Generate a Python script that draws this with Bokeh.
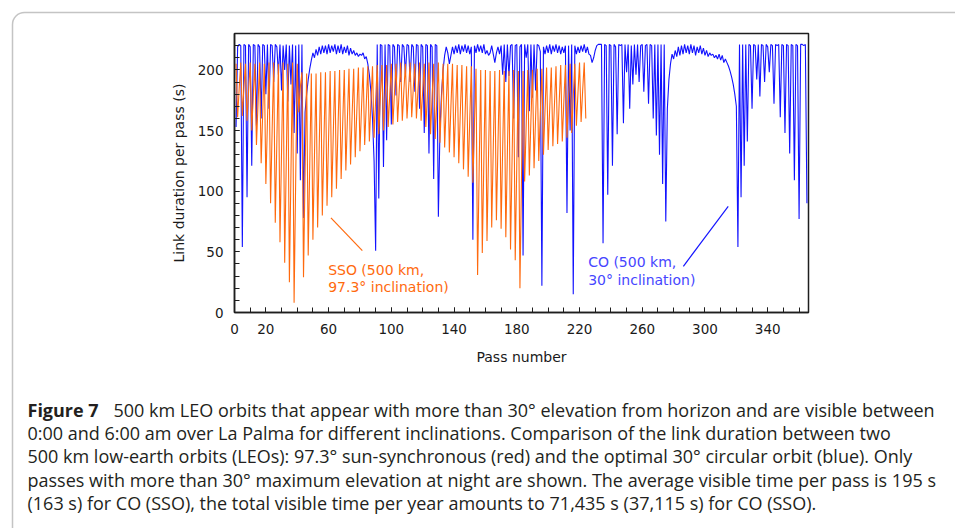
from bokeh.plotting import figure
from bokeh.models import FixedTicker, Label, BoxAnnotation, Arrow, Range1d
from bokeh.core.properties import value
from bokeh.embed import file_html
from bokeh.resources import INLINE

# ---------------- data ----------------
# CO (500 km, 30 deg inclination): link duration per pass, passes 1..365
co_g1 = [153, 219, 221, 220, 54, 221, 220, 95, 221, 219,
         121, 221, 220, 154, 221, 219, 160, 221, 220, 180,
         221, 168, 221, 220, 190, 221, 219, 196, 221, 183,
         220, 200, 221, 174, 220, 188, 221, 148, 220, 131,
         221, 109, 221, 78]
co_p1 = [165, 180, 192, 201, 208, 214, 210, 217, 212, 219,
         213, 220, 214, 220, 213, 221, 214, 220, 215, 221,
         213, 220, 214, 221, 213, 219, 214, 220, 212, 218,
         213, 216, 212, 214, 211, 213, 212, 214, 209, 211,
         205, 196, 182, 160, 125]
co_g2 = [51, 221, 94, 221, 220, 120, 221, 142, 221, 220,
         155, 221, 219, 179, 221, 220, 190, 221, 219, 196,
         221, 220, 190, 221, 219, 182, 221, 220, 168, 221,
         219, 148, 221, 220, 131, 221, 219, 110, 221, 220,
         79]
co_p2 = [150, 180, 200, 212, 219, 214, 205, 212, 219, 213,
         220, 214, 221, 213, 220, 215, 221, 214, 220, 213,
         219, 60, 220, 214, 221, 215, 220, 214, 221, 213,
         216, 212, 214, 220, 213, 206, 214, 219, 213, 220]
co_g3 = [196, 221, 190, 221, 195, 220, 221, 160, 220, 221,
         128, 219, 221, 47, 221, 210, 221, 166, 221, 177,
         221, 183, 221, 220, 215, 22, 219, 213, 220, 214,
         221, 213, 220, 215, 221, 214, 220, 213, 219, 214,
         220, 82, 220, 150, 221, 15, 220, 213, 219, 214,
         220, 215, 221, 214, 219, 213, 212, 206, 210, 216,
         220, 221, 221, 221]
co_g4 = [57, 221, 220, 97, 221, 220, 121, 221, 219, 147,
         221, 220, 221, 156, 221, 198, 221, 168, 220, 188,
         221, 196, 221, 190, 220, 221, 182, 220, 221, 172,
         221, 220, 160, 221, 146, 221, 130, 221, 106, 221,
         75]
co_p3 = [168, 192, 205, 213, 209, 216, 211, 219, 212, 220,
         213, 221, 214, 220, 213, 221, 214, 220, 212, 219,
         214, 220, 213, 218, 212, 216, 211, 214, 212, 213,
         210, 212, 209, 213, 208, 212, 206, 209, 206, 203,
         199, 194, 188, 180, 170]
co_g5 = [54, 221, 95, 221, 121, 221, 141, 221, 220, 168,
         221, 220, 192, 221, 178, 221, 220, 190, 221, 219,
         198, 221, 220, 172, 221, 220, 221, 161, 221, 220,
         148, 221, 220, 131, 221, 220, 109, 221, 220, 77,
         221, 221, 220, 221, 90]

# SSO (500 km, 97.3 deg): one 3-pass cycle = (high pass, low pass, middle pass)
sso_high = [205, 206, 205, 206, 205, 206, 205, 206, 206, 205,
            206, 205, 206, 205, 198, 197, 197, 197, 198, 198,
            199, 199, 200, 200, 201, 201, 202, 202, 203, 203,
            204, 204, 204, 205, 205, 206, 205, 206, 205, 206,
            205, 206, 205, 206, 205, 205, 205, 204, 204, 203,
            203, 201, 200, 200, 199, 199, 200, 199, 199, 200,
            199, 199, 200, 200, 201, 201, 202, 202, 203, 204,
            204, 205, 205, 206, 206]
sso_low = [161, 162, 158, 150, 138, 123, 106, 90, 74, 58,
           41, 25, 8, 165, 29, 47, 60, 70, 80, 88,
           95, 102, 110, 117, 122, 128, 133, 138, 141, 144,
           147, 150, 153, 155, 157, 158, 160, 161, 160, 158,
           153, 147, 143, 140, 136, 132, 128, 123, 118, 112,
           107, 31, 49, 59, 70, 76, 69, 62, 52, 43,
           20, 108, 113, 119, 125, 130, 134, 137, 139, 141,
           144, 148, 154, 157, 160]
sso_mid = [185, 186, 183, 180, 172, 165, 157, 150, 141, 133,
           124, 116, 108, 186, 115, 123, 130, 135, 140, 144,
           148, 152, 156, 160, 163, 166, 169, 171, 173, 175,
           177, 178, 180, 181, 182, 183, 184, 185, 184, 183,
           180, 178, 175, 174, 172, 170, 168, 165, 162, 159,
           156, 118, 126, 131, 136, 139, 136, 132, 127, 122,
           111, 155, 158, 161, 164, 167, 169, 171, 172, 174,
           176, 178, 181, 183, 185]

x_tick_labels = [0, 20, 60, 100, 140, 180, 220, 260, 300, 340]
y_tick_labels = [0, 50, 100, 150, 200]

caption_head = "Figure 7"
caption_lines = [
    "500 km LEO orbits that appear with more than 30\u00b0 elevation from horizon and are visible between",
    "0:00 and 6:00 am over La Palma for different inclinations. Comparison of the link duration between two",
    "500 km low-earth orbits (LEOs): 97.3\u00b0 sun-synchronous (red) and the optimal 30\u00b0 circular orbit (blue). Only",
    "passes with more than 30\u00b0 maximum elevation at night are shown. The average visible time per pass is 195 s",
    "(163 s) for CO (SSO), the total visible time per year amounts to 71,435 s (37,115 s) for CO (SSO).",
]

# ---------------- assemble series ----------------
co = co_g1 + co_p1 + co_g2 + co_p2 + co_g3 + co_g4 + co_p3 + co_g5
co_pass = list(range(1, len(co) + 1))
sso = []
for h, l, m in zip(sso_high, sso_low, sso_mid):
    sso += [h, l, m]
sso = sso[:-1]
sso_pass = list(range(1, len(sso) + 1))

BLUE = "#1212ff"
ORANGE = "#ff6a0e"
FONT = "DejaVu Sans"
TXT = "#1a1a1a"

W, H = 955, 528
FL, FR, FT, FB = 234, 808, 33, 312   # chart frame in page px

# ---------------- background sheet: rounded box + caption ----------------
bg = figure(width=W, height=H, x_range=Range1d(0, W), y_range=Range1d(H, 0),
            output_backend="svg", toolbar_location=None,
            x_axis_type=None, y_axis_type=None, min_border=0)
bg.grid.visible = False
bg.outline_line_color = None
bg.add_layout(BoxAnnotation(left=12, right=W + 60, top=12, bottom=H + 60,
                            fill_alpha=0, line_color="#3a3a3a", line_width=1.5,
                            border_radius=12))
CAP_FONT = "Open Sans"
CAP_SIZE = "18px"
line_y = [409, 432, 455, 479, 502]
bg.text(x=[27], y=[line_y[0]], text=[caption_head], text_font=value(CAP_FONT),
        text_font_size=CAP_SIZE, text_font_style="bold", text_baseline="middle",
        text_color="#231f20")
bg.text(x=[113] + [27] * 4, y=line_y, text=caption_lines, text_font=value(CAP_FONT),
        text_font_size=CAP_SIZE, text_baseline="middle", text_color="#231f20")

# ---------------- chart ----------------
p = figure(width=W, height=H, x_range=Range1d(0, 366), y_range=Range1d(0, 230),
           output_backend="svg", toolbar_location=None,
           min_border_left=FL, min_border_right=W - FR,
           min_border_top=FT, min_border_bottom=H - FB)
p.grid.visible = False
p.background_fill_alpha = 0
p.border_fill_alpha = 0
p.outline_line_color = "#1e1e1e"
p.outline_line_width = 1.5

p.line(co_pass, co, line_color=BLUE, line_width=1.1)
p.line(sso_pass, sso, line_color=ORANGE, line_width=1.1)

for ax in (p.xaxis[0], p.yaxis[0]):
    ax.axis_line_color = "#1e1e1e"
    ax.axis_line_width = 1.5
    ax.major_tick_in = 5
    ax.major_tick_out = 0
    ax.minor_tick_in = 5
    ax.minor_tick_out = 0
    ax.major_tick_line_color = "#1e1e1e"
    ax.minor_tick_line_color = "#1e1e1e"
    ax.major_label_text_font = FONT
    ax.major_label_text_font_size = "13.5px"
    ax.major_label_text_color = TXT
    ax.axis_label_text_font = FONT
    ax.axis_label_text_font_size = "14px"
    ax.axis_label_text_font_style = "normal"
    ax.axis_label_text_color = TXT

p.xaxis.ticker = FixedTicker(ticks=x_tick_labels, minor_ticks=list(range(0, 370, 10)))
p.yaxis.ticker = FixedTicker(ticks=y_tick_labels, minor_ticks=list(range(0, 231, 10)))
p.xaxis.axis_label = "Pass number"
p.yaxis.axis_label = "Link duration per pass (s)"
p.xaxis.major_label_standoff = 11
p.yaxis.major_label_standoff = 11
p.xaxis.axis_label_standoff = 12
p.yaxis.axis_label_standoff = 8

for txt, yy in (("SSO (500 km,", 34.8), ("97.3\u00b0 inclination)", 21.0)):
    p.add_layout(Label(x=59.7, y=yy, text=txt, text_baseline="middle", text_align="left",
                       text_font=FONT, text_font_size="14px", text_color=ORANGE))
for txt, yy in (("CO (500 km,", 41.7), ("30\u00b0 inclination)", 26.6)):
    p.add_layout(Label(x=225.5, y=yy, text=txt, text_baseline="middle", text_align="left",
                       text_font=FONT, text_font_size="14px", text_color="#4646ff"))
p.add_layout(Arrow(end=None, x_start=61.5, y_start=78, x_end=81.5, y_end=51,
                   line_color=ORANGE, line_width=1.2))
p.add_layout(Arrow(end=None, x_start=286.2, y_start=38.1, x_end=314.8, y_end=87.5,
                   line_color=BLUE, line_width=1.2))

p.styles = {"position": "absolute", "left": "0px", "top": "0px", "z-index": "2"}

open("out.html", "w").write(file_html([bg, p], INLINE))
